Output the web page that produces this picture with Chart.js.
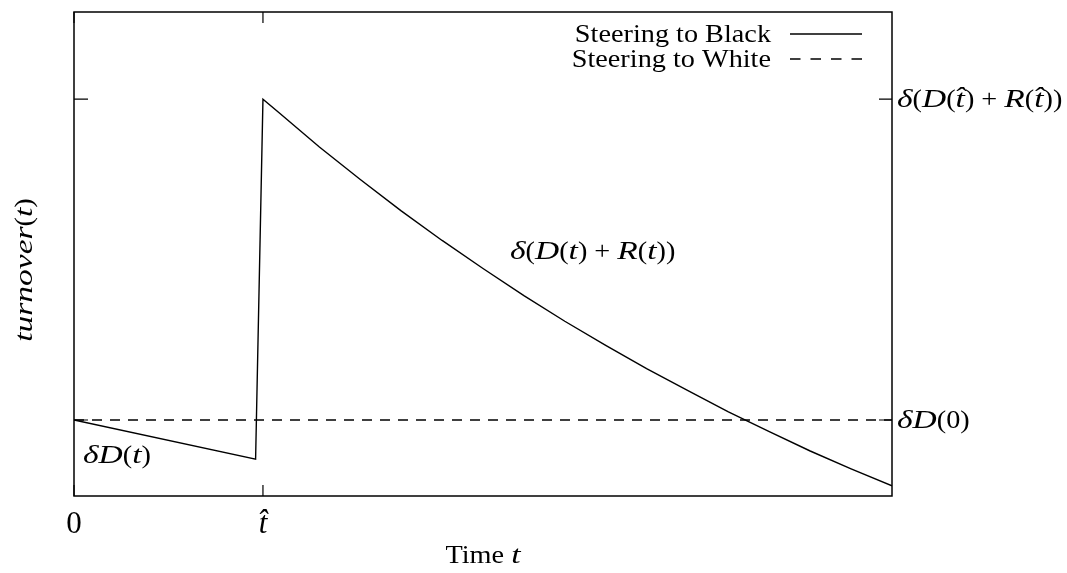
<!DOCTYPE html>
<html>
<head>
<meta charset="utf-8">
<script src="https://cdn.jsdelivr.net/npm/chart.js@4"></script>
<style>
html, body { margin: 0; padding: 0; background: #fff; }
#wrap { width: 1067px; height: 573px; }
</style>
</head>
<body>
<div id="wrap"><canvas id="myChart"></canvas></div>
<script>
// data (x: 0..100 time units, y: 0..100 turnover units)
const timeBlack = [0, 22.2, 23.1, 25, 30, 35, 40, 45, 50, 55, 60, 65, 70, 75, 80, 85, 90, 95, 100];
const turnoverBlack = [15.7, 7.6, 82.0, 79.3, 72.1, 65.4, 58.9, 52.8, 47.0, 41.4, 36.1, 31.1, 26.3, 21.8, 17.4, 13.3, 9.3, 5.6, 2.1];
const timeWhite = [0, 100];
const turnoverWhite = [15.7, 15.7];

const seriesNames = ["Steering to Black", "Steering to White"];

const xTickValues = [0, 23.1];
const xTickLabels = ["0", "t\u0302"];
const yTickValues = [15.7, 82.0];
// right-hand tick labels as [text, italic] pieces
const PLUS = " + ";
const yTickLabels = [
    [["\u03b4D", 1], ["(0)", 0]],
    [["\u03b4", 1], ["(", 0], ["D", 1], ["(", 0], ["t\u0302", 1], [")" + PLUS, 0], ["R", 1], ["(", 0], ["t\u0302", 1], ["))", 0]],
];

const SERIF = '"Liberation Serif", "DejaVu Serif", serif';
const TXT = 25;
// Computer Modern is wider than Times, stretch a little
const SX_ROMAN = 1.13;
const SX_ITALIC = 1.34;

function toPoints(xs, ys) {
    return xs.map((x, i) => ({x: x, y: ys[i]}));
}

function richText(ctx, parts, x, y, size, align) {
    let w = 0;
    parts.forEach(([s, it]) => {
        ctx.font = (it ? "italic " : "") + size + "px " + SERIF;
        w += ctx.measureText(s).width * (it ? SX_ITALIC : SX_ROMAN);
    });
    let cx = x;
    if (align === "right") cx = x - w;
    if (align === "center") cx = x - w / 2;
    parts.forEach(([s, it]) => {
        const sx = it ? SX_ITALIC : SX_ROMAN;
        ctx.font = (it ? "italic " : "") + size + "px " + SERIF;
        ctx.save();
        ctx.translate(cx, y);
        ctx.scale(sx, 1);
        ctx.fillText(s, 0, 0);
        ctx.restore();
        cx += ctx.measureText(s).width * sx;
    });
}

const setTicks = (vals) => (scale) => {
    scale.ticks = vals.map(v => ({value: v}));
};

// frame, inward ticks, legend, labels
const decorPlugin = {
    id: "decor",
    afterDatasetsDraw(chart) {
        const ctx = chart.ctx;
        const a = chart.chartArea;
        const xs = chart.scales.x;
        const ys = chart.scales.y;
        ctx.save();
        ctx.strokeStyle = "#000";
        ctx.fillStyle = "#000";
        ctx.lineWidth = 1.5;
        ctx.setLineDash([]);
        ctx.strokeRect(a.left, a.top, a.right - a.left, a.bottom - a.top);

        // tick marks, pointing into the plot
        ctx.lineWidth = 1.2;
        ctx.beginPath();
        xTickValues.forEach(v => {
            const px = xs.getPixelForValue(v);
            ctx.moveTo(px, a.bottom); ctx.lineTo(px, a.bottom - 11);
            ctx.moveTo(px, a.top); ctx.lineTo(px, a.top + 11);
        });
        yTickValues.forEach(v => {
            const py = ys.getPixelForValue(v);
            ctx.moveTo(a.left, py); ctx.lineTo(a.left + 14, py);
            ctx.moveTo(a.right, py); ctx.lineTo(a.right - 13, py);
        });
        ctx.stroke();

        ctx.textBaseline = "middle";
        yTickValues.forEach((v, i) => {
            richText(ctx, yTickLabels[i], a.right + 5, ys.getPixelForValue(v) + 1, TXT, "left");
        });

        // legend
        ctx.textBaseline = "alphabetic";
        chart.data.datasets.forEach((ds, i) => {
            const base = a.top + 30 + i * 25;
            richText(ctx, [[ds.label, 0]], a.right - 121, base, TXT, "right");
            ctx.lineWidth = 1.3;
            ctx.setLineDash(ds.borderDash ? [10.5, 10] : []);
            ctx.beginPath();
            ctx.moveTo(a.right - 102, base - 8);
            ctx.lineTo(a.right - 30, base - 8);
            ctx.stroke();
        });
        ctx.setLineDash([]);

        // curve labels
        richText(ctx, [["\u03b4D", 1], ["(", 0], ["t", 1], [")", 0]],
            xs.getPixelForValue(1.1), ys.getPixelForValue(6.8), TXT, "left");
        richText(ctx, [["\u03b4", 1], ["(", 0], ["D", 1], ["(", 0], ["t", 1], [")" + PLUS, 0], ["R", 1], ["(", 0], ["t", 1], ["))", 0]],
            xs.getPixelForValue(53.3), ys.getPixelForValue(49.0), TXT, "left");

        // axis titles
        richText(ctx, [["Time ", 0], ["t", 1]], (a.left + a.right) / 2, 563, TXT, "center");
        ctx.translate(32, 270);
        ctx.rotate(-Math.PI / 2);
        richText(ctx, [["turnover", 1], ["(", 0], ["t", 1], [")", 0]], 0, 0, TXT, "center");
        ctx.restore();
    }
};

const ctx = document.getElementById("myChart");
const myChart = new Chart(ctx, {
    type: "scatter",
    data: {
        datasets: [
            {
                label: seriesNames[0],
                data: toPoints(timeBlack, turnoverBlack),
                showLine: true,
                borderColor: "#000",
                borderWidth: 1.4,
                pointRadius: 0,
                tension: 0,
            },
            {
                label: seriesNames[1],
                data: toPoints(timeWhite, turnoverWhite),
                showLine: true,
                borderColor: "#000",
                borderWidth: 1.4,
                borderDash: [10, 8],
                pointRadius: 0,
            },
        ],
    },
    options: {
        responsive: true,
        maintainAspectRatio: false,
        animation: false,
        layout: {padding: {top: 12, left: 0, right: 0, bottom: 0}},
        plugins: {
            legend: {display: false},
            tooltip: {enabled: false},
        },
        scales: {
            x: {
                type: "linear",
                min: 0,
                max: 100,
                grid: {display: false, drawTicks: false},
                border: {display: false},
                afterBuildTicks: setTicks(xTickValues),
                afterFit: (s) => { s.height = 77; },
                ticks: {
                    color: "#000",
                    padding: 10,
                    maxRotation: 0,
                    autoSkip: false,
                    callback: (v, i) => xTickLabels[i],
                    font: (c) => ({family: SERIF, size: 31, style: c.index === 1 ? "italic" : "normal"}),
                },
            },
            y: {
                type: "linear",
                position: "left",
                min: 0,
                max: 100,
                grid: {display: false, drawTicks: false},
                border: {display: false},
                afterBuildTicks: setTicks(yTickValues),
                afterFit: (s) => { s.width = 74; },
                ticks: {display: false},
            },
            y2: {
                type: "linear",
                position: "right",
                min: 0,
                max: 100,
                grid: {display: false, drawTicks: false},
                border: {display: false},
                afterBuildTicks: setTicks(yTickValues),
                afterFit: (s) => { s.width = 175; },
                ticks: {display: false},
            },
        },
    },
    plugins: [decorPlugin],
});
</script>
</body>
</html>
